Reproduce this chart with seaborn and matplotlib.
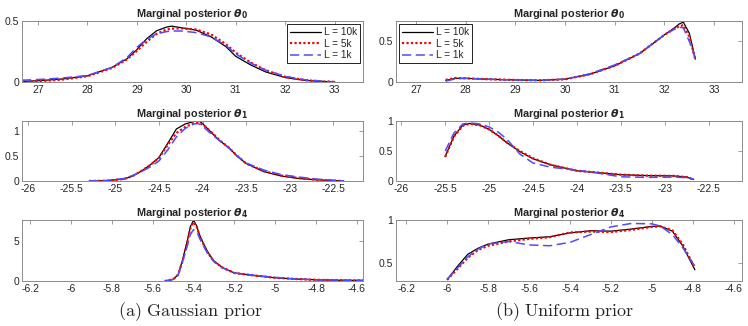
import matplotlib
matplotlib.use("Agg")
import matplotlib.pyplot as plt
import seaborn as sns

# ---- data (density estimates, per panel) ----
labels = ["L = 10k", "L = 5k", "L = 1k"]

# (a) Gaussian prior, theta_0
g0_x = [26.68, 27.0, 27.5, 28.0, 28.5, 28.8, 29.0, 29.2, 29.4, 29.6, 29.7,
        29.9, 30.2, 30.5, 30.8, 31.0, 31.3, 31.6, 32.0, 32.4, 32.8, 33.0]
g0_10k = [0.005, 0.01, 0.025, 0.05, 0.12, 0.19, 0.265, 0.355, 0.42, 0.45, 0.458,
          0.445, 0.425, 0.37, 0.29, 0.21, 0.14, 0.083, 0.036, 0.013, 0.003, 0.001]
g0_5k = [0.003, 0.006, 0.02, 0.047, 0.115, 0.185, 0.255, 0.33, 0.395, 0.43, 0.437,
         0.44, 0.43, 0.39, 0.31, 0.24, 0.16, 0.097, 0.042, 0.015, 0.004, 0.001]
g0_1k = [0.015, 0.02, 0.033, 0.053, 0.12, 0.2, 0.285, 0.35, 0.395, 0.413, 0.418,
         0.418, 0.405, 0.37, 0.3, 0.23, 0.155, 0.098, 0.046, 0.018, 0.005, 0.002]

# (a) Gaussian prior, theta_1
g1_x = [-25.3, -25.1, -24.9, -24.8, -24.7, -24.6, -24.5, -24.4, -24.3, -24.2, -24.1,
        -24.05, -24.0, -23.9, -23.8, -23.7, -23.6, -23.5, -23.3, -23.1, -22.9, -22.7,
        -22.5, -22.38]
g1_10k = [0.0, 0.005, 0.04, 0.1, 0.2, 0.32, 0.47, 0.75, 1.04, 1.14, 1.19, 1.21, 1.15,
          0.97, 0.8, 0.67, 0.49, 0.35, 0.19, 0.1, 0.05, 0.025, 0.008, 0.0]
g1_5k = [0.0, 0.005, 0.04, 0.1, 0.2, 0.32, 0.46, 0.72, 0.96, 1.08, 1.16, 1.16, 1.13,
         0.98, 0.81, 0.67, 0.5, 0.35, 0.2, 0.11, 0.06, 0.025, 0.008, 0.0]
g1_1k = [0.0, 0.01, 0.05, 0.11, 0.19, 0.28, 0.4, 0.62, 0.88, 1.05, 1.14, 1.15, 1.1,
         0.94, 0.8, 0.66, 0.5, 0.36, 0.22, 0.13, 0.08, 0.04, 0.015, 0.0]

# (a) Gaussian prior, theta_4
g4_x = [-5.54, -5.5, -5.475, -5.455, -5.43, -5.415, -5.40, -5.385, -5.37, -5.35,
        -5.33, -5.30, -5.26, -5.2, -5.1, -5.0, -4.9, -4.8, -4.7, -4.57]
g4_10k = [0.0, 0.2, 0.8, 2.5, 5.0, 6.8, 7.55, 6.9, 5.7, 4.6, 3.6, 2.5, 1.7, 1.0,
          0.67, 0.4, 0.25, 0.15, 0.1, 0.07]
g4_5k = [0.0, 0.2, 0.8, 2.4, 4.9, 6.6, 7.35, 6.8, 5.6, 4.5, 3.5, 2.45, 1.7, 1.0,
         0.68, 0.4, 0.25, 0.15, 0.1, 0.06]
g4_1k = [0.0, 0.2, 0.8, 2.3, 4.4, 5.8, 6.4, 6.2, 5.3, 4.3, 3.4, 2.4, 1.65, 1.0,
         0.7, 0.45, 0.25, 0.15, 0.11, 0.08]

# (b) Uniform prior, theta_0
u0_x = [27.6, 27.8, 28.0, 28.5, 29.0, 29.5, 30.0, 30.5, 31.0, 31.5, 32.0, 32.2,
        32.3, 32.38, 32.5, 32.62]
u0_10k = [0.02, 0.045, 0.045, 0.033, 0.025, 0.02, 0.035, 0.095, 0.2, 0.35, 0.58,
          0.665, 0.715, 0.735, 0.6, 0.28]
u0_5k = [0.025, 0.05, 0.045, 0.033, 0.025, 0.02, 0.033, 0.095, 0.2, 0.35, 0.58,
         0.655, 0.685, 0.70, 0.56, 0.28]
u0_1k = [0.01, 0.04, 0.045, 0.033, 0.025, 0.02, 0.035, 0.1, 0.21, 0.35, 0.58,
         0.65, 0.675, 0.665, 0.5, 0.30]

# (b) Uniform prior, theta_1
u1_x = [-25.5, -25.4, -25.3, -25.22, -25.1, -25.0, -24.9, -24.8, -24.65, -24.5,
        -24.3, -24.0, -23.8, -23.5, -23.2, -22.9, -22.75, -22.67]
u1_10k = [0.41, 0.75, 0.93, 0.96, 0.93, 0.86, 0.76, 0.64, 0.49, 0.37, 0.27, 0.17,
          0.145, 0.105, 0.09, 0.085, 0.065, 0.025]
u1_5k = [0.40, 0.74, 0.92, 0.955, 0.925, 0.86, 0.76, 0.645, 0.5, 0.38, 0.27, 0.17,
         0.145, 0.105, 0.09, 0.085, 0.065, 0.025]
u1_1k = [0.50, 0.80, 0.95, 0.97, 0.95, 0.90, 0.82, 0.70, 0.45, 0.30, 0.23, 0.18,
         0.14, 0.07, 0.06, 0.065, 0.055, 0.03]

# (b) Uniform prior, theta_4
u4_x = [-6.0, -5.95, -5.9, -5.85, -5.8, -5.7, -5.6, -5.5, -5.4, -5.3, -5.2, -5.1,
        -5.0, -4.96, -4.9, -4.85, -4.79]
u4_10k = [0.305, 0.46, 0.6, 0.67, 0.72, 0.77, 0.79, 0.805, 0.85, 0.875, 0.87, 0.895,
          0.925, 0.93, 0.87, 0.70, 0.42]
u4_5k = [0.305, 0.43, 0.56, 0.65, 0.70, 0.75, 0.78, 0.80, 0.855, 0.865, 0.86, 0.885,
         0.92, 0.925, 0.88, 0.72, 0.44]
u4_1k = [0.31, 0.44, 0.57, 0.66, 0.72, 0.75, 0.71, 0.70, 0.74, 0.83, 0.92, 0.96,
         0.955, 0.93, 0.83, 0.68, 0.46]

# ---- styling ----
sns.set_theme(style="white")
plt.rcParams["font.family"] = ["Liberation Sans", "DejaVu Sans"]
plt.rcParams["axes.unicode_minus"] = False

line_styles = [
    dict(color="black", linestyle="-", linewidth=0.9),
    dict(color="red", linestyle=(0, (1, 1)), linewidth=1.6),
    dict(color=(0.3, 0.3, 1.0), linestyle=(0, (6, 3)), linewidth=1.1),
]

fig = plt.figure(figsize=(7.48, 3.26), dpi=100)

W, H = 748.0, 326.0
col_px = [(22, 341), (396, 346)]
row_px = [(21, 82), (121, 181), (220, 281)]


def make_ax(col, row):
    x0, w = col_px[col]
    top, bot = row_px[row]
    return fig.add_axes([x0 / W, 1 - bot / H, w / W, (bot - top) / H])


panels = [
    # col, row, sub, x, series, xlim, ylim, xticks, yticks
    (0, 0, "0", g0_x, [g0_10k, g0_5k, g0_1k], (26.68, 33.57), (0, 0.5),
     [27, 28, 29, 30, 31, 32, 33], [0, 0.5]),
    (0, 1, "1", g1_x, [g1_10k, g1_5k, g1_1k], (-26.07, -22.16), (0, 1.2),
     [-26, -25.5, -25, -24.5, -24, -23.5, -23, -22.5], [0, 0.5, 1]),
    (0, 2, "4", g4_x, [g4_10k, g4_5k, g4_1k], (-6.24, -4.57), (0, 7.6),
     [-6.2, -6, -5.8, -5.6, -5.4, -5.2, -5, -4.8, -4.6], [0, 5]),
    (1, 0, "0", u0_x, [u0_10k, u0_5k, u0_1k], (26.6, 33.56), (0, 0.75),
     [27, 28, 29, 30, 31, 32, 33], [0, 0.5]),
    (1, 1, "1", u1_x, [u1_10k, u1_5k, u1_1k], (-26.06, -22.12), (0, 1.0),
     [-26, -25.5, -25, -24.5, -24, -23.5, -23, -22.5], [0, 0.5, 1]),
    (1, 2, "4", u4_x, [u4_10k, u4_5k, u4_1k], (-6.25, -4.56), (0.29, 1.0),
     [-6.2, -6, -5.8, -5.6, -5.4, -5.2, -5, -4.8, -4.6], [0.5, 1]),
]

for col, row, sub, xs, series, xlim, ylim, xticks, yticks in panels:
    ax = make_ax(col, row)
    for ys, lab, st in zip(series, labels, line_styles):
        sns.lineplot(x=xs, y=ys, ax=ax, label=lab if row == 0 else None, **st)
    ax.set_xlim(*xlim)
    ax.set_ylim(*ylim)
    ax.set_xticks(xticks)
    ax.set_xticklabels(["%g" % t for t in xticks])
    ax.set_yticks(yticks)
    ax.set_yticklabels(["%g" % t for t in yticks])
    ax.tick_params(direction="in", top=True, right=True, length=3, width=0.6,
                   labelsize=7.5, pad=2, colors="#8c8c8c", labelcolor="#262626")
    for sp in ax.spines.values():
        sp.set_color("#8c8c8c")
        sp.set_linewidth(0.7)
    ax.set_xlabel("")
    ax.set_ylabel("")
    ax.set_title(r"Marginal posterior $\boldsymbol{\theta}_\mathbf{%s}$" % sub,
                 fontsize=7.8, fontweight="bold", pad=3)
    if row == 0:
        ax.legend(loc="upper right" if col == 0 else "upper left", fontsize=7.3,
                  frameon=True, fancybox=False, edgecolor="black",
                  framealpha=1, borderpad=0.3, labelspacing=0.15,
                  handlelength=3.0, handletextpad=0.3, borderaxespad=0.3)
        ax.get_legend().get_frame().set_linewidth(0.6)
    else:
        if ax.get_legend() is not None:
            ax.get_legend().remove()

fig.text(190 / W, 1 - 312 / H, r"$\mathrm{(a)\ Gaussian\ prior}$",
         math_fontfamily="cm", ha="center", va="center", fontsize=13)
fig.text(565 / W, 1 - 312 / H, r"$\mathrm{(b)\ Uniform\ prior}$",
         math_fontfamily="cm", ha="center", va="center", fontsize=13)

fig.savefig("out.png", dpi=100)
